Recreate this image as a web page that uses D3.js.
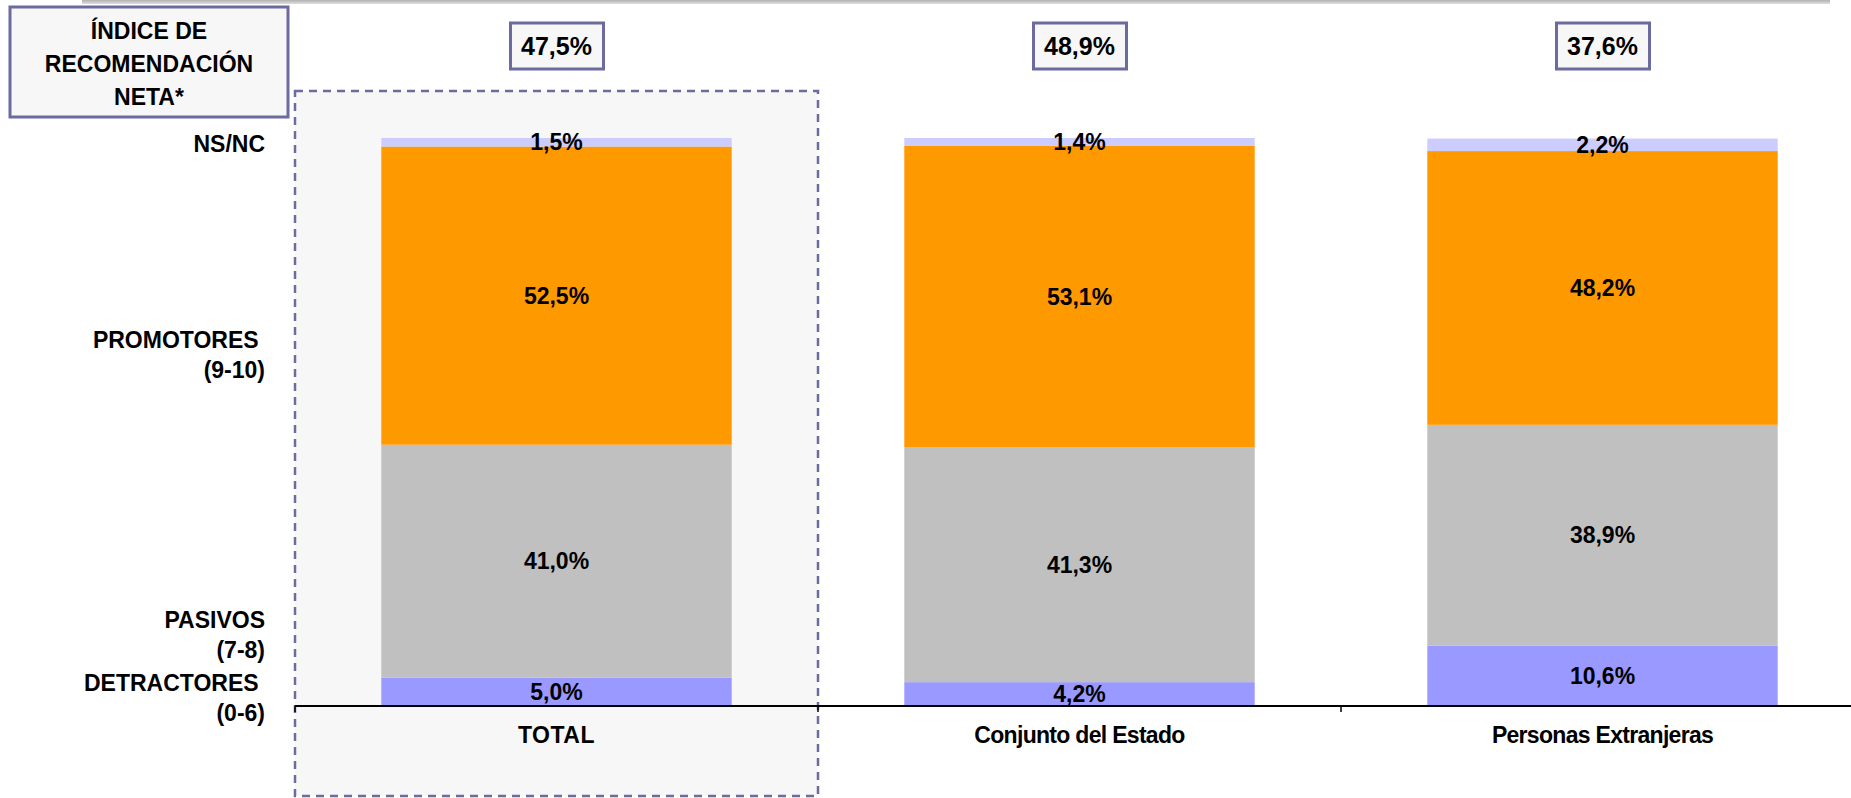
<!DOCTYPE html>
<html>
<head>
<meta charset="utf-8">
<script src="https://cdn.jsdelivr.net/npm/d3@7"></script>
<style>
  body { margin: 0; background: #fff; }
  svg text { font-family: "Liberation Sans", Arial, sans-serif; font-weight: bold; fill: #000; }
</style>
</head>
<body>
<svg id="chart" width="1851" height="798"></svg>
<script>

// data
var categories = ["TOTAL", "Conjunto del Estado", "Personas Extranjeras"];
var series = ["DETRACTORES", "PASIVOS", "PROMOTORES", "NS/NC"];
var detractores = [5.0, 4.2, 10.6];
var pasivos = [41.0, 41.3, 38.9];
var promotores = [52.5, 53.1, 48.2];
var nsnc = [1.5, 1.4, 2.2];
var nps = [47.5, 48.9, 37.6];
var colors = ["#9999FF", "#C0C0C0", "#FF9900", "#CCCCFF"];

var svg = d3.select("#chart"),
    width = +svg.attr("width"),
    height = +svg.attr("height");

var fmt = function(v){ return d3.format(".1f")(v).replace(".", ",") + "%"; };

var x = d3.scaleBand()
    .domain(categories)
    .range([295, 295 + 3 * 523])
    .padding(0);
var barW = x.bandwidth() * 0.67;

var y = d3.scaleLinear().domain([0, 100]).range([706, 138]);

var rows = categories.map(function(c, i){
  return {cat: c, DETRACTORES: detractores[i], PASIVOS: pasivos[i], PROMOTORES: promotores[i], "NS/NC": nsnc[i]};
});
var stacked = d3.stack().keys(series)(rows);

// top grey rule
var grad = svg.append("defs").append("linearGradient").attr("id", "topg")
    .attr("x1", 0).attr("x2", 0).attr("y1", 0).attr("y2", 1);
grad.append("stop").attr("offset", "0%").attr("stop-color", "#b0b0b0");
grad.append("stop").attr("offset", "100%").attr("stop-color", "#e0e0e0");
svg.append("rect").attr("x", 82).attr("y", 0).attr("width", 1748).attr("height", 4).attr("fill", "url(#topg)");

// highlight box round TOTAL
svg.append("rect")
    .attr("x", x("TOTAL")).attr("y", 91)
    .attr("width", x.bandwidth()).attr("height", 705)
    .attr("fill", "#F7F7F7")
    .attr("stroke", "#6B6BA0").attr("stroke-width", 2.5)
    .attr("stroke-dasharray", "8,6");

// title box
svg.append("rect").attr("x", 10).attr("y", 7).attr("width", 278).attr("height", 110)
    .attr("fill", "#F7F7F7").attr("stroke", "#6B6BA0").attr("stroke-width", 3);
var title = svg.append("text").attr("x", 149).attr("text-anchor", "middle").style("font-size", "23px");
["ÍNDICE DE", "RECOMENDACIÓN", "NETA*"].forEach(function(t, i){
  title.append("tspan").attr("x", 149).attr("y", 39 + i * 33).text(t);
});

// bars
var layer = svg.append("g").selectAll("g")
  .data(stacked)
  .enter().append("g")
    .attr("fill", function(d, i){ return colors[i]; });

layer.selectAll("rect")
  .data(function(d){ return d; })
  .enter().append("rect")
    .attr("x", function(d){ return x(d.data.cat) + (x.bandwidth() - barW) / 2; })
    .attr("y", function(d){ return y(d[1]); })
    .attr("width", barW)
    .attr("height", function(d){ return y(d[0]) - y(d[1]); });

layer.selectAll("text")
  .data(function(d){ return d; })
  .enter().append("text")
    .attr("x", function(d){ return x(d.data.cat) + x.bandwidth() / 2; })
    .attr("y", function(d){ return (y(d[0]) + y(d[1])) / 2 + 8; })
    .attr("text-anchor", "middle")
    .style("font-size", "23px")
    .text(function(d){ return fmt(d[1] - d[0]); });

// axis
svg.append("line").attr("x1", 295).attr("x2", width).attr("y1", 706).attr("y2", 706)
    .attr("stroke", "#000").attr("stroke-width", 2);
svg.append("g").selectAll("line")
  .data(categories)
  .enter().append("line")
    .attr("x1", function(d){ return x(d); }).attr("x2", function(d){ return x(d); })
    .attr("y1", 706).attr("y2", 712)
    .attr("stroke", "#000").attr("stroke-width", 1.5);

svg.append("g").selectAll("text")
  .data(categories)
  .enter().append("text")
    .attr("x", function(d){ return x(d) + x.bandwidth() / 2; })
    .attr("y", 743)
    .attr("text-anchor", "middle")
    .style("font-size", function(d, i){ return i == 0 ? "23px" : "23px"; })
    .style("letter-spacing", function(d, i){ return i == 0 ? "0.5px" : "-0.7px"; })
    .text(function(d){ return d; });

// NPS boxes
var npsG = svg.append("g").selectAll("g")
  .data(nps)
  .enter().append("g")
    .attr("transform", function(d, i){ return "translate(" + (x(categories[i]) + x.bandwidth() / 2) + ",46)"; });
npsG.append("rect").attr("x", -46).attr("y", -23).attr("width", 93).attr("height", 46)
    .attr("fill", "#F7F7F7").attr("stroke", "#6B6BA0").attr("stroke-width", 3);
npsG.append("text").attr("text-anchor", "middle").attr("y", 9)
    .style("font-size", "25px")
    .text(function(d){ return fmt(d); });

// series labels on the left
var sideLabels = [
  {lines: ["NS/NC"], v: 99.0},
  {lines: ["PROMOTORES ", "(9-10)"], v: 64.5},
  {lines: ["PASIVOS", "(7-8)"], v: 15.2},
  {lines: ["DETRACTORES ", "(0-6)"], v: 4.0}
];
sideLabels.forEach(function(s){
  var t = svg.append("text").attr("text-anchor", "end").style("font-size", "23px")
      .attr("xml:space", "preserve");
  s.lines.forEach(function(l, i){
    t.append("tspan").attr("x", 265).attr("y", y(s.v) + 8 + i * 30).text(l);
  });
});

</script>
</body>
</html>
